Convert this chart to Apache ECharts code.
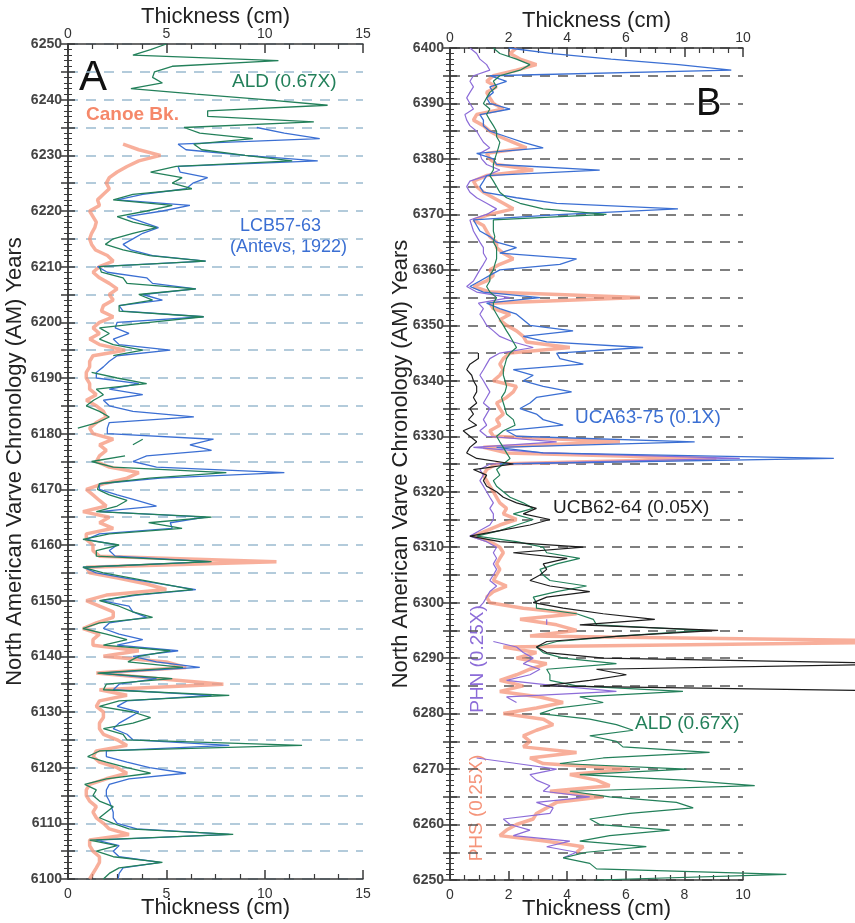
<!DOCTYPE html>
<html>
<head>
    <meta charset="utf-8">
    <title>Varve thickness</title>
    <script src="https://cdn.jsdelivr.net/npm/echarts@6/dist/echarts.min.js"></script>
    <style>
        * { margin: 0; padding: 0 }
        html, body { width: 100%; height: 100%; background: #fff; }
        #main { width: 855px; height: 923px; }
    </style>
</head>
<body>
<div id="main"></div>
<script type="text/javascript">
    /*--------------------数据: 每个数组按年份从上往下(递减)排列-----------------------------*/
    // Panel A: 6250 -> 6100
    var yearTopA = 6250;
    var aldA = [5.0, 4.2, 3.3, 10.7, 5.3, 4.4, 4.3, 4.8, 3.2, 6.5,
        10.0, 13.2, 7.1, 7.1, 12.5, 5.9, 6.7, 9.4, 6.4, 6.8,
        9.0, 11.4, 5.5, 4.2, 5.8, 5.3, 6.3, 3.3, 2.3, 5.3,
        4.0, 2.5, 3.3, 4.5, 3.3, 2.3, 1.9, 2.8, 4.15, 7.0,
        1.6, 1.7, 2.8, 3.0, 6.5, 3.6, 4.3, 2.6, 2.6, 6.9,
        4.15, 1.6, 2.1, 1.6, 2.3, 3.8, 2.3, null, null, 1.2,
        2.5, 4.0, 1.44, 1.8, 1.3, 0.93, 1.6, 2.1, 1.5, 0.5,
        null, 3.8, 3.3, null, 2.9, 1.2, 2.3, 8.05, 4.15, 1.6,
        1.5, 2.1, 3.0, 2.5, 1.44, 7.3, 4.1, 5.8, 2.1, 0.76,
        2.6, 1.44, 1.44, 7.3, 0.76, 1.8, 3.3, 4.8, 6.35, 3.3,
        1.6, 2.6, 3.3, 4.3, 1.6, 0.76, 1.95, 3.0, 1.8, 5.2,
        3.6, 3.05, 5.85, 1.5, 5.3, 1.95, 1.8, 8.2, 2.6, 1.6,
        3.3, 4.2, 3.3, 1.8, 2.8, 3.0, 11.9, 1.6, 1.0, 1.95,
        3.0, 4.2, 1.95, 0.85, 1.44, 1.27, 1.6, 2.3, 1.95, 1.6,
        2.3, 3.1, 8.4, 1.1, 2.5, 1.44, 2.3, 4.8, 2.6, 2.1,
        1.8];
    var lcbA = [null, null, null, null, null, null, null, null, null, null,
        null, null, null, null, null, 9.6, 11.0, 12.8, 5.6, 6.0,
        9.0, 12.7, 5.6, 5.7, 7.1, 6.35, 6.0, 3.8, 2.5, 6.2,
        4.8, 3.0, 3.8, 4.6, 3.8, 3.3, 2.8, 3.2, 4.3, 7.0,
        1.5, 2.0, 4.0, 4.3, 6.5, 3.8, 4.8, 2.6, 2.8, 6.9,
        2.5, 2.4, 3.1, 2.3, 2.6, 5.2, 2.5, 2.1, 1.8, 1.44,
        1.44, 3.6, 2.1, 3.8, 1.8, 2.1, 3.3, 6.4, 2.1, 2.0,
        2.0, 7.4, 6.2, 7.3, 4.0, 3.3, 4.5, 11.0, 4.7, 1.6,
        1.6, 2.5, 3.5, 4.5, 1.6, 7.0, 5.2, 5.3, 1.6, 0.93,
        2.5, 2.1, 2.4, 7.2, 0.76, 1.44, 3.0, 4.7, 6.5, 3.5,
        1.7, 3.1, 3.3, 4.0, 2.1, 1.8, 2.6, 3.8, 2.5, 5.6,
        3.3, 4.5, 6.7, 1.6, 4.5, 2.6, 2.3, 7.3, 3.0, 2.5,
        3.6, 3.1, 2.6, 2.3, 3.0, 3.3, 8.2, 1.95, 1.95, 3.0,
        4.15, 6.0, 3.1, 2.1, 1.95, 1.95, 2.1, 2.2, 2.3, 2.3,
        2.5, 3.5, 8.2, 1.44, 2.6, 2.3, 2.6, 4.7, 2.8, 2.6,
        2.55];
    var canoeA = [null, null, null, null, null, null, null, null, null, null,
        null, null, null, null, null, null, null, null, 2.8, 3.6,
        4.7, 3.6, 3.0, 2.5, 2.1, 1.95, 2.1, 1.8, 1.5, 1.6,
        1.1, 1.27, 1.44, 1.36, 1.2, 1.1, 1.2, 1.4, 2.0, 2.3,
        1.6, 1.27, 1.6, 2.1, 2.5, 2.1, 2.3, 1.8, 1.7, 2.3,
        1.6, 1.27, 1.6, 1.1, 1.6, 2.9, 1.27, 1.1, 1.1, 0.93,
        0.93, 1.1, 1.1, 1.44, 0.93, 1.44, 1.8, 1.95, 1.44, 1.1,
        1.27, 2.3, 1.6, 1.95, 1.6, 1.44, 2.1, 3.6, 3.0, 1.8,
        0.93, 1.27, 1.6, 1.95, 0.76, 2.1, 1.6, 2.3, 0.93, 0.93,
        1.27, 1.27, 1.6, 10.6, 0.93, 1.1, 2.6, 4.0, 5.0, 1.95,
        0.93, 1.6, 2.3, 2.3, 1.44, 0.76, 1.6, 1.27, 1.27, 3.6,
        1.8, 5.0, 6.0, 1.44, 4.5, 7.9, 1.6, 3.0, 1.6, 1.44,
        1.8, 1.8, 1.6, 1.6, 1.8, 2.5, 3.0, 1.44, 1.27, 1.6,
        2.5, 3.0, 1.95, 1.1, 0.93, 0.93, 1.1, 1.44, 1.27, 1.44,
        1.8, 2.1, 3.1, 1.1, 1.1, 1.27, 1.6, 1.6, 1.44, 1.27,
        1.1];

    // Panel B: 6400 -> 6250
    var yearTopB = 6400;
    var ucaB = [2.0, 3.5, 5.5, 7.8, 9.6, 1.36, 1.93, 1.36, 1.48, 1.25,
        1.36, 2.05, 1.02, 1.14, 1.14, 1.36, 1.93, 2.5, 3.18, 0.91,
        1.48, 1.59, 5.11, 1.25, 1.14, 1.02, 1.14, 2.27, 3.64, 7.78,
        3.86, 0.8, 0.91, 1.02, 1.36, 1.59, 2.27, 1.7, 4.32, 3.75,
        1.7, 1.36, 1.02, 0.68, 1.14, 3.07, 1.25, 1.7, 2.27, 2.5,
        2.73, 4.2, 2.5, 3.3, 6.59, 3.64, 3.75, 4.55, 2.16, 2.84,
        2.5, 3.18, 4.15, 2.95, 2.73, 2.39, 2.95, 3.18, 3.86, 1.93,
        2.27, 8.35, 1.59, 3.18, 13.1, 1.7];
    var aldB = [1.48, 1.7, 2.27, 2.73, 2.39, 1.7, 1.48, 1.59, 1.36, 1.25,
        1.14, 1.36, 1.25, 1.36, 1.48, 1.59, 1.59, 1.7, 1.65, 1.59,
        1.53, 1.48, 1.48, 1.36, 1.48, 1.59, 1.7, 1.93, 2.39, 3.18,
        5.34, 1.48, 1.48, 1.48, 1.53, 1.48, 1.59, 1.59, 1.59, 1.53,
        1.48, 1.36, 1.36, 1.25, 1.36, 1.59, 1.48, 1.48, 1.59, 1.7,
        1.82, 1.93, 2.05, 2.16, 2.27, 2.05, 1.93, 1.88, 1.82, 1.82,
        1.88, 1.93, 1.88, 1.76, 1.82, 1.88, 1.93, 2.16, 2.22, 1.82,
        1.59, 1.7, 1.82, 1.93, 2.05, 1.82, 1.59, 1.7, 1.48, 1.59,
        1.82, 2.05, 2.5, 2.84, 2.16, 2.84, 2.27, 1.7, 0.91, 2.27,
        3.18, 3.3, 4.43, 3.64, 3.07, 3.18, 3.41, 4.66, 3.64, 2.84,
        2.95, 2.95, 4.32, 4.89, 5.0, 8.64, 5.9, 3.64, 2.95, 3.18,
        3.86, 5.68, 3.3, 3.41, 3.41, 4.32, 7.95, 4.43, 5.23, 3.64,
        3.07, 4.77, 5.68, 6.25, 4.77, 5.68, 5.9, 8.86, 5.23, 3.75,
        8.07, 4.43, 7.95, 10.4, 4.09, 5.45, 7.73, 8.3, 6.14, 4.77,
        5.11, 7.5, 5.45, 4.43, 6.7, 4.66, 3.86, 4.77, 5.0, 11.48,
        5.0];
    var ucbB = [null, null, null, null, null, null, null, null, null, null,
        null, null, null, null, null, null, null, null, null, null,
        null, null, null, null, null, null, null, null, null, null,
        null, null, null, null, null, null, null, null, null, null,
        null, null, null, null, null, null, null, null, null, null,
        null, null, null, null, null, 0.97, 0.97, 0.68, 0.57, 0.74,
        0.8, 0.91, 0.91, 0.8, 0.91, 0.68, 0.8, 0.63, 0.91, 0.45,
        0.68, 0.91, 0.68, 0.57, 0.91, 2.16, 0.8, 1.25, 1.14, 1.25,
        1.59, 1.82, 2.27, 2.95, 2.5, 3.41, 2.73, 1.7, 0.68, 1.7,
        4.55, 2.16, 4.0, 3.18, 3.3, 3.07, 2.73, 3.41, 4.77, 3.3,
        2.84, 3.86, 5.23, 6.99, 4.43, 9.15, 5.9, 3.3, 2.95, 3.3,
        5.23, 16, 5.0, 6.02, 4.77, 3.18, 16];
    var phsB = [2.27, 2.05, 2.39, 2.95, 2.27, 1.48, 1.25, 1.59, 1.25, 1.36,
        1.48, 1.82, 0.91, 0.8, 1.14, 1.36, 1.7, 2.16, 2.61, 1.25,
        1.36, 1.59, 2.84, 1.25, 0.8, 0.91, 1.14, 1.48, 1.82, 2.16,
        1.36, 0.8, 1.14, 1.25, 1.36, 1.59, 1.59, 1.82, 2.16, 1.7,
        1.36, 1.48, 1.25, 0.8, 1.36, 6.48, 1.36, 1.48, 2.05, 1.7,
        1.93, 2.27, 2.5, 2.61, 4.09, 2.05, 1.82, 1.7, 1.82, 1.7,
        1.48, 2.27, 2.16, 1.93, 1.59, 1.7, 1.82, 1.59, 1.7, 1.36,
        1.48, 5.8, 1.14, 1.93, 9.09, 1.59, 1.25, 1.14, 1.25, 1.36,
        1.48, 1.59, 1.7, 1.93, 1.82, 2.27, 1.7, 1.25, 0.8, 1.36,
        1.7, 1.82, 1.7, 1.59, 1.7, 1.59, 1.48, 1.93, 1.48, 1.25,
        1.36, 2.5, 4.32, 2.39, 3.64, 4.32, 2.73, 17, 1.82, 2.95,
        2.27, 3.3, 2.73, 2.27, 1.7, 2.5, 1.7, 3.07, 3.86, 2.95,
        1.82, 3.18, 3.52, 2.95, 2.5, 2.73, 2.5, 4.32, 2.73, 3.18,
        6.14, 4.09, 5.0, 5.45, 3.41, 5.23, 3.64, 3.3, 2.95, 2.84,
        2.27, 1.93, 1.7, 3.3, 4.55, 4.32];
    var phnB = [0.68, 0.91, 1.02, 1.25, 1.36, 0.8, 0.68, 0.8, 0.68, 0.57,
        0.68, 0.8, 0.51, 0.57, 0.68, 0.91, 1.02, 1.14, 1.36, 1.02,
        1.08, 1.25, 1.7, 1.25, 0.68, 0.57, 0.68, 0.91, 1.25, 1.59,
        1.25, 0.68, 0.74, 0.8, 0.91, 1.02, 1.14, 1.14, 1.25, 1.14,
        1.02, 0.91, 0.8, 0.57, 0.91, 2.05, 0.97, 1.14, 1.02, 1.14,
        1.25, 1.48, 1.7, 2.16, 2.84, 1.7, 1.36, 1.25, 1.14, 1.02,
        1.14, 1.25, 1.36, 1.25, 1.14, 1.36, 1.25, 1.14, 1.25, 1.02,
        1.25, 3.64, 0.8, 3.18, 9.89, 1.36, 1.02, 1.14, 1.02, 1.14,
        1.25, 1.36, 1.48, 1.36, 1.48, 1.48, 1.36, 1.02, 0.68, 1.25,
        1.59, 1.48, 1.59, 1.48, 1.59, 1.48, 1.36, 1.59, 1.36, 1.25,
        1.14, 0.97, null, 3.3, 3.3, null, null, 1.48, 2.27, 2.5,
        2.84, 2.5, 3.07, 2.73, 1.93, 3.64, 5.68, 1.93, 2.27, null,
        null, null, null, null, null, null, null, null, 0.91, 2.27,
        3.64, 2.73, 2.95, 3.41, 3.18, 4.77, 2.95, 3.52, 3.41, 1.82,
        2.05, 2.73, 2.16, 4.09, 3.3, 4.32, 3.86];

    // 转换为 [厚度, 年份] 点对
    function toPairs(vals, topYear) {
        return vals.map(function (v, i) {
            return [v === null ? '-' : v, topYear - i];
        });
    }

    var FONT = 'Liberation Sans, Arial, sans-serif';
    var AXIS_COLOR = '#3a3a3a';

    // 画布尺寸 (B 图的线条会超出坐标框, 一直画到右边缘)
    var gridA = {left: 68, top: 44, width: 295, height: 835, outerBoundsMode: 'none'};
    var gridB = {left: 450, top: 48, width: 293, height: 832, outerBoundsMode: 'none'};
    var overflowWidth = 855 - gridB.left;
    var overflowMax = 10 * overflowWidth / gridB.width;

    function xAxisDef(gridIndex, pos, max, interval, minorSplit) {
        var top = pos === 'top';
        return {
            gridIndex: gridIndex,
            type: 'value',
            position: pos,
            min: 0,
            max: max,
            interval: interval,
            name: 'Thickness (cm)',
            nameLocation: 'middle',
            nameMoveOverlap: false,
            nameGap: top ? 16 : 18,
            nameTextStyle: {fontSize: 22, color: '#222', fontFamily: FONT},
            axisLine: {show: true, lineStyle: {color: AXIS_COLOR, width: 1.5}},
            axisTick: {show: true, inside: true, length: 9, lineStyle: {color: AXIS_COLOR, width: 1.5}},
            minorTick: {show: true, splitNumber: minorSplit, length: 5, lineStyle: {color: AXIS_COLOR, width: 1.2}},
            axisLabel: {fontSize: 14, color: '#333', margin: top ? 3 : 8, fontFamily: FONT},
            splitLine: {show: false}
        };
    }

    function yAxisDef(gridIndex, pos, min, max, dashColor) {
        var left = pos === 'left';
        return {
            gridIndex: gridIndex,
            type: 'value',
            position: pos,
            min: min,
            max: max,
            interval: 5,
            name: left ? 'North American Varve Chronology (AM) Years' : '',
            nameLocation: 'middle',
            nameMoveOverlap: false,
            nameRotate: 90,
            nameGap: gridIndex === 0 ? 42 : 38,
            nameTextStyle: {fontSize: 22, color: '#222', fontFamily: FONT},
            axisLine: {show: true, lineStyle: {color: AXIS_COLOR, width: 1.5}},
            axisTick: {show: true, inside: true, length: 7, lineStyle: {color: AXIS_COLOR, width: 1.5}},
            minorTick: {show: true, splitNumber: 5, length: 4, lineStyle: {color: AXIS_COLOR, width: 1}},
            axisLabel: {
                show: left,
                fontSize: 14,
                fontWeight: 'bold',
                color: '#444',
                margin: 6,
                fontFamily: FONT,
                formatter: function (v) {
                    return v % 10 === 0 ? v : '';
                }
            },
            splitLine: {
                show: left,
                lineStyle: {color: dashColor, type: [10, 8], width: 1.5}
            }
        };
    }

    function lineSeries(name, xIdx, yIdx, data, color, width, opacity, z) {
        return {
            name: name,
            type: 'line',
            xAxisIndex: xIdx,
            yAxisIndex: yIdx,
            data: data,
            showSymbol: false,
            symbol: 'none',
            z: z,
            lineStyle: {color: color, width: width, opacity: opacity},
            emphasis: {disabled: true}
        };
    }

    var GREEN = '#23805a', BLUE = '#3b6fd3', SALMON = '#f5947a', PURPLE = '#8c6cd8', BLACK = '#1e1e1e';

    var chart = echarts.init(document.getElementById('main'));
    chart.setOption({
        animation: false,
        backgroundColor: '#fff',
        grid: [
            gridA,
            gridB,
            // 隐藏的绘图区: 与 B 同一刻度, 但向右延伸到画布边缘
            {left: gridB.left, top: gridB.top, width: overflowWidth, height: gridB.height, outerBoundsMode: 'none'}
        ],
        xAxis: [
            xAxisDef(0, 'top', 15, 5, 4),
            xAxisDef(0, 'bottom', 15, 5, 4),
            xAxisDef(1, 'top', 10, 2, 4),
            xAxisDef(1, 'bottom', 10, 2, 4),
            {gridIndex: 2, type: 'value', min: 0, max: overflowMax, show: false}
        ],
        yAxis: [
            yAxisDef(0, 'left', 6100, 6250, '#9bbad0'),
            yAxisDef(0, 'right', 6100, 6250, '#9bbad0'),
            yAxisDef(1, 'left', 6250, 6400, '#555'),
            yAxisDef(1, 'right', 6250, 6400, '#555'),
            {gridIndex: 2, type: 'value', min: 6250, max: 6400, show: false}
        ],
        series: [
            lineSeries('Canoe Bk.', 0, 0, toPairs(canoeA, yearTopA), SALMON, 3.5, 0.75, 2),
            lineSeries('LCB57-63', 0, 0, toPairs(lcbA, yearTopA), BLUE, 1.3, 1, 3),
            lineSeries('ALD A', 0, 0, toPairs(aldA, yearTopA), GREEN, 1.3, 1, 4),
            lineSeries('PHS', 4, 4, toPairs(phsB, yearTopB), SALMON, 3.5, 0.75, 2),
            lineSeries('PHN', 4, 4, toPairs(phnB, yearTopB), PURPLE, 1.2, 1, 3),
            lineSeries('UCA63-75', 4, 4, toPairs(ucaB, yearTopB), BLUE, 1.3, 1, 4),
            lineSeries('ALD B', 4, 4, toPairs(aldB, yearTopB), GREEN, 1.2, 1, 5),
            lineSeries('UCB62-64', 4, 4, toPairs(ucbB, yearTopB), BLACK, 1.2, 1, 6)
        ],
        graphic: [
            {type: 'text', left: 79, top: 57, style: {text: 'A', font: '42px ' + FONT, fill: '#111'}},
            {type: 'text', left: 696, top: 86, style: {text: 'B', font: '38px ' + FONT, fill: '#111'}},
            {type: 'text', left: 232, top: 72, style: {text: 'ALD (0.67X)', font: '19px ' + FONT, fill: GREEN}},
            {type: 'text', left: 86, top: 105, style: {text: 'Canoe Bk.', font: 'bold 19px ' + FONT, fill: '#f5886a'}},
            {type: 'text', left: 240, top: 217, style: {text: 'LCB57-63', font: '18px ' + FONT, fill: BLUE}},
            {type: 'text', left: 230, top: 238, style: {text: '(Antevs, 1922)', font: '18px ' + FONT, fill: BLUE}},
            {type: 'text', left: 575, top: 408, style: {text: 'UCA63-75 (0.1X)', font: '19px ' + FONT, fill: BLUE}},
            {type: 'text', left: 553, top: 498, style: {text: 'UCB62-64 (0.05X)', font: '19px ' + FONT, fill: BLACK}},
            {type: 'text', left: 635, top: 714, style: {text: 'ALD (0.67X)', font: '19px ' + FONT, fill: GREEN}},
            {
                type: 'text', x: 478, y: 659, rotation: Math.PI / 2,
                style: {text: 'PHN (0.25X)', font: '19px ' + FONT, fill: PURPLE, align: 'center', verticalAlign: 'middle'}
            },
            {
                type: 'text', x: 477, y: 808, rotation: Math.PI / 2,
                style: {text: 'PHS (0.25X)', font: '19px ' + FONT, fill: SALMON, align: 'center', verticalAlign: 'middle'}
            }
        ]
    });
</script>
</body>
</html>
